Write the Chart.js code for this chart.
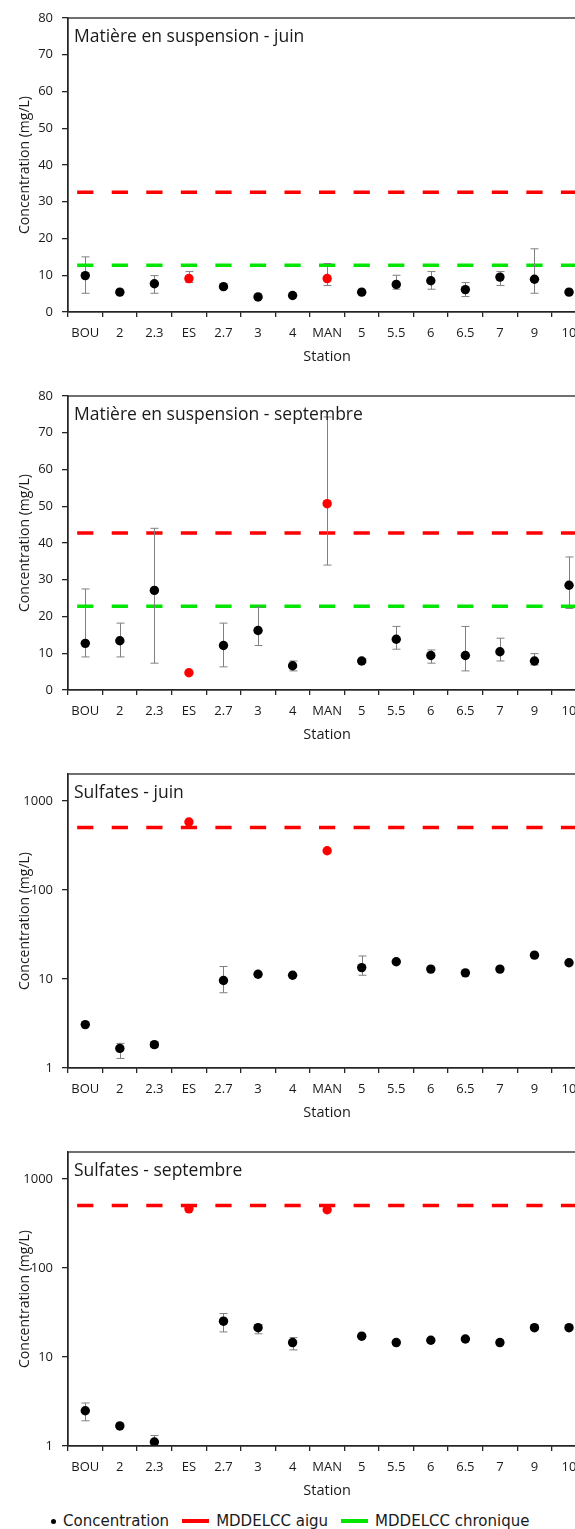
<!DOCTYPE html>
<html>
<head>
<meta charset="utf-8">
<script src="https://cdn.jsdelivr.net/npm/chart.js@4.4.0/dist/chart.umd.min.js"></script>
<style>
  html, body { margin: 0; padding: 0; background: #fff; }
  body { width: 575px; height: 1529px; overflow: hidden; position: relative; }
  .panel { position: absolute; left: 0; }
  #legend {
    position: absolute; left: 51px; top: 1512px;
    display: flex; align-items: center; white-space: nowrap;
    font: 15px "DejaVu Sans", sans-serif; line-height: 18px; color: #1a1a1a;
  }
  #legend .item { display: flex; align-items: center; margin-right: 13px; }
  #legend .dot { width: 5px; height: 5px; border-radius: 50%; margin-right: 7px; }
  #legend .line { width: 27px; height: 3.5px; margin-right: 7px; }
</style>
</head>
<body>
<canvas id="mesJuin" class="panel" width="600" height="378" style="top:0px"></canvas>
<canvas id="mesSept" class="panel" width="600" height="378" style="top:378px"></canvas>
<canvas id="sulfJuin" class="panel" width="600" height="378" style="top:756px"></canvas>
<canvas id="sulfSept" class="panel" width="600" height="378" style="top:1134px"></canvas>
<div id="legend"></div>

<script>
// Stations along the river
const stations = ['BOU', '2', '2.3', 'ES', '2.7', '3', '4', 'MAN', '5', '5.5', '6', '6.5', '7', '9', '10'];
const redStations = ['ES', 'MAN'];

// Matiere en suspension - juin (mg/L)
const mesJuinValues = [9.9, 5.4, 7.7, 9.1, 6.9, 4.1, 4.5, 9.1, 5.4, 7.5, 8.5, 6.1, 9.5, 8.9, 5.4];
const mesJuinLow    = [5.1, null, 5.1, 8.0, null, null, null, 7.2, null, 6.2, 6.2, 4.2, 7.2, 5.1, null];
const mesJuinHigh   = [15.0, null, 9.9, 11.0, null, null, null, 13.2, null, 10.0, 11.0, 8.0, 11.0, 17.2, null];
const mesJuinAigu = 32.6;
const mesJuinChronique = 12.7;

// Matiere en suspension - septembre (mg/L)
const mesSeptValues = [12.7, 13.4, 27.1, 4.7, 12.1, 16.2, 6.6, 50.7, 7.9, 13.8, 9.4, 9.4, 10.4, 7.9, 28.5];
const mesSeptLow    = [9.0, 9.0, 7.3, null, 6.3, 12.1, 5.2, 34.0, 7.4, 11.1, 7.3, 5.2, 7.9, 6.8, 22.2];
const mesSeptHigh   = [27.5, 18.2, 44.0, null, 18.2, 22.5, 7.9, 74.3, 8.5, 17.3, 10.9, 17.3, 14.1, 9.9, 36.2];
const mesSeptAigu = 42.7;
const mesSeptChronique = 22.8;

// Sulfates - juin (mg/L)
const sulfJuinValues = [3.07, 1.66, 1.83, 578, 9.6, 11.3, 11.0, 275, 13.4, 15.6, 12.9, 11.7, 12.9, 18.5, 15.2];
const sulfJuinLow    = [null, 1.28, 1.7, null, 7.0, null, null, null, 11.0, null, null, null, null, null, null];
const sulfJuinHigh   = [null, 1.89, 1.95, null, 13.8, null, null, null, 18.1, null, null, null, null, null, null];
const sulfJuinAigu = 500;

// Sulfates - septembre (mg/L)
const sulfSeptValues = [2.49, 1.68, 1.11, 460, 25.2, 21.3, 14.5, 449, 17.1, 14.5, 15.4, 15.9, 14.5, 21.3, 21.3];
const sulfSeptLow    = [1.92, null, 0.95, null, 19.1, 18.2, 12.0, null, null, null, null, null, null, null, null];
const sulfSeptHigh   = [3.04, null, 1.31, null, 30.7, 23.0, 16.5, null, null, null, null, null, null, null, null];
const sulfSeptAigu = 500;

// Axis ticks
const mesTicks = [0, 10, 20, 30, 40, 50, 60, 70, 80];
const sulfTicks = [1, 10, 100, 1000];

const aiguColor = '#ff0000';
const chroniqueColor = '#00e600';
const axisColor = '#262626';
const textColor = '#1a1a1a';
const errColor = '#808080';

// Dashed limits, error bars, frame and panel title
const panelDecor = {
  id: 'panelDecor',
  beforeDatasetsDraw(chart, args, opts) {
    const { ctx, chartArea: a, scales } = chart;
    const catW = (a.right - a.left) / stations.length;
    const dash = catW * 0.47;
    ctx.save();
    ctx.beginPath();
    ctx.rect(a.left, a.top, a.right - a.left, a.bottom - a.top);
    ctx.clip();

    opts.limits.forEach(l => {
      const y = scales.y.getPixelForValue(l.value);
      ctx.strokeStyle = l.color;
      ctx.lineWidth = 3.5;
      ctx.setLineDash([dash, catW - dash]);
      ctx.beginPath();
      ctx.moveTo(a.left + (catW - dash) / 2, y);
      ctx.lineTo(a.right, y);
      ctx.stroke();
    });

    ctx.setLineDash([]);
    ctx.strokeStyle = errColor;
    ctx.lineWidth = 1;
    opts.low.forEach((lo, i) => {
      const hi = opts.high[i];
      if (lo == null || hi == null) return;
      const x = Math.round(scales.x.getPixelForValue(i)) + 0.5;
      const y1 = scales.y.getPixelForValue(lo);
      const y2 = scales.y.getPixelForValue(hi);
      ctx.beginPath();
      ctx.moveTo(x, y1); ctx.lineTo(x, y2);
      ctx.moveTo(x - 4, y1); ctx.lineTo(x + 4, y1);
      ctx.moveTo(x - 4, y2); ctx.lineTo(x + 4, y2);
      ctx.stroke();
    });
    ctx.restore();
  },
  afterDraw(chart, args, opts) {
    const { ctx, chartArea: a } = chart;
    ctx.save();
    ctx.strokeStyle = axisColor;
    ctx.lineWidth = 1.3;
    ctx.strokeRect(a.left, a.top, a.right - a.left, a.bottom - a.top);
    ctx.font = '17.5px "Open Sans"';
    ctx.fillStyle = textColor;
    ctx.textBaseline = 'alphabetic';
    ctx.textAlign = 'left';
    ctx.fillText(opts.title, a.left + 6, a.top + 23.7);
    ctx.restore();
  }
};

function makePanel(id, title, values, low, high, limits, log) {
  const yScale = log ? {
    type: 'logarithmic',
    min: 1,
    max: 2000,
    afterBuildTicks(scale) {
      scale.ticks = sulfTicks.map(v => ({ value: v }));
    },
    ticks: { callback: v => String(v) }
  } : {
    type: 'linear',
    min: 0,
    max: 80,
    afterBuildTicks(scale) {
      scale.ticks = mesTicks.map(v => ({ value: v }));
    }
  };
  Object.assign(yScale.ticks || (yScale.ticks = {}), {
    color: textColor, padding: 9, font: { family: 'Open Sans', size: 13 }
  });
  yScale.grid = { drawOnChartArea: false, tickLength: 6, color: axisColor, lineWidth: 1.3 };
  yScale.border = { color: axisColor, width: 1.3 };
  yScale.title = {
    display: true, text: 'Concentration (mg/L)', color: textColor,
    font: { family: 'Open Sans', size: 14 }, padding: { top: 16.6, bottom: 0 }
  };
  yScale.afterFit = scale => { scale.width = 68; };

  return new Chart(document.getElementById(id), {
    type: 'line',
    data: {
      labels: stations,
      datasets: [{
        label: 'Concentration',
        data: values,
        showLine: false,
        pointRadius: 4.7,
        pointHoverRadius: 4.7,
        pointBorderWidth: 0,
        pointBackgroundColor: stations.map(s => redStations.includes(s) ? aiguColor : '#000000'),
        pointBorderColor: stations.map(s => redStations.includes(s) ? aiguColor : '#000000')
      }]
    },
    options: {
      responsive: false,
      animation: false,
      layout: { padding: { top: 18, right: 13.7, left: 0, bottom: 0 } },
      plugins: {
        legend: { display: false },
        tooltip: { enabled: false },
        panelDecor: { title: title, low: low, high: high, limits: limits }
      },
      scales: {
        x: {
          offset: true,
          ticks: { color: textColor, padding: 8, maxRotation: 0, autoSkip: false, font: { family: 'Open Sans', size: 13 } },
          grid: { offset: true, drawOnChartArea: false, tickLength: 5, color: axisColor, lineWidth: 1.3 },
          border: { color: axisColor, width: 1.3 },
          title: {
            display: true, text: 'Station', color: textColor,
            font: { family: 'Open Sans', size: 14.5 }, padding: { top: 0, bottom: 12.6 }
          },
          afterFit(scale) { scale.height = 66; }
        },
        y: yScale
      }
    },
    plugins: [panelDecor]
  });
}

makePanel('mesJuin', 'Matière en suspension - juin', mesJuinValues, mesJuinLow, mesJuinHigh,
  [{ value: mesJuinAigu, color: aiguColor }, { value: mesJuinChronique, color: chroniqueColor }], false);
makePanel('mesSept', 'Matière en suspension - septembre', mesSeptValues, mesSeptLow, mesSeptHigh,
  [{ value: mesSeptAigu, color: aiguColor }, { value: mesSeptChronique, color: chroniqueColor }], false);
makePanel('sulfJuin', 'Sulfates - juin', sulfJuinValues, sulfJuinLow, sulfJuinHigh,
  [{ value: sulfJuinAigu, color: aiguColor }], true);
makePanel('sulfSept', 'Sulfates - septembre', sulfSeptValues, sulfSeptLow, sulfSeptHigh,
  [{ value: sulfSeptAigu, color: aiguColor }], true);

// Shared legend under the last panel
const legendItems = [
  { label: 'Concentration', kind: 'dot', color: '#000000' },
  { label: 'MDDELCC aigu', kind: 'line', color: aiguColor },
  { label: 'MDDELCC chronique', kind: 'line', color: chroniqueColor }
];
const legendEl = document.getElementById('legend');
legendItems.forEach(it => {
  const item = document.createElement('span');
  item.className = 'item';
  const mark = document.createElement('span');
  mark.className = it.kind;
  mark.style.background = it.color;
  const txt = document.createElement('span');
  txt.textContent = it.label;
  item.appendChild(mark);
  item.appendChild(txt);
  legendEl.appendChild(item);
});
</script>
</body>
</html>
